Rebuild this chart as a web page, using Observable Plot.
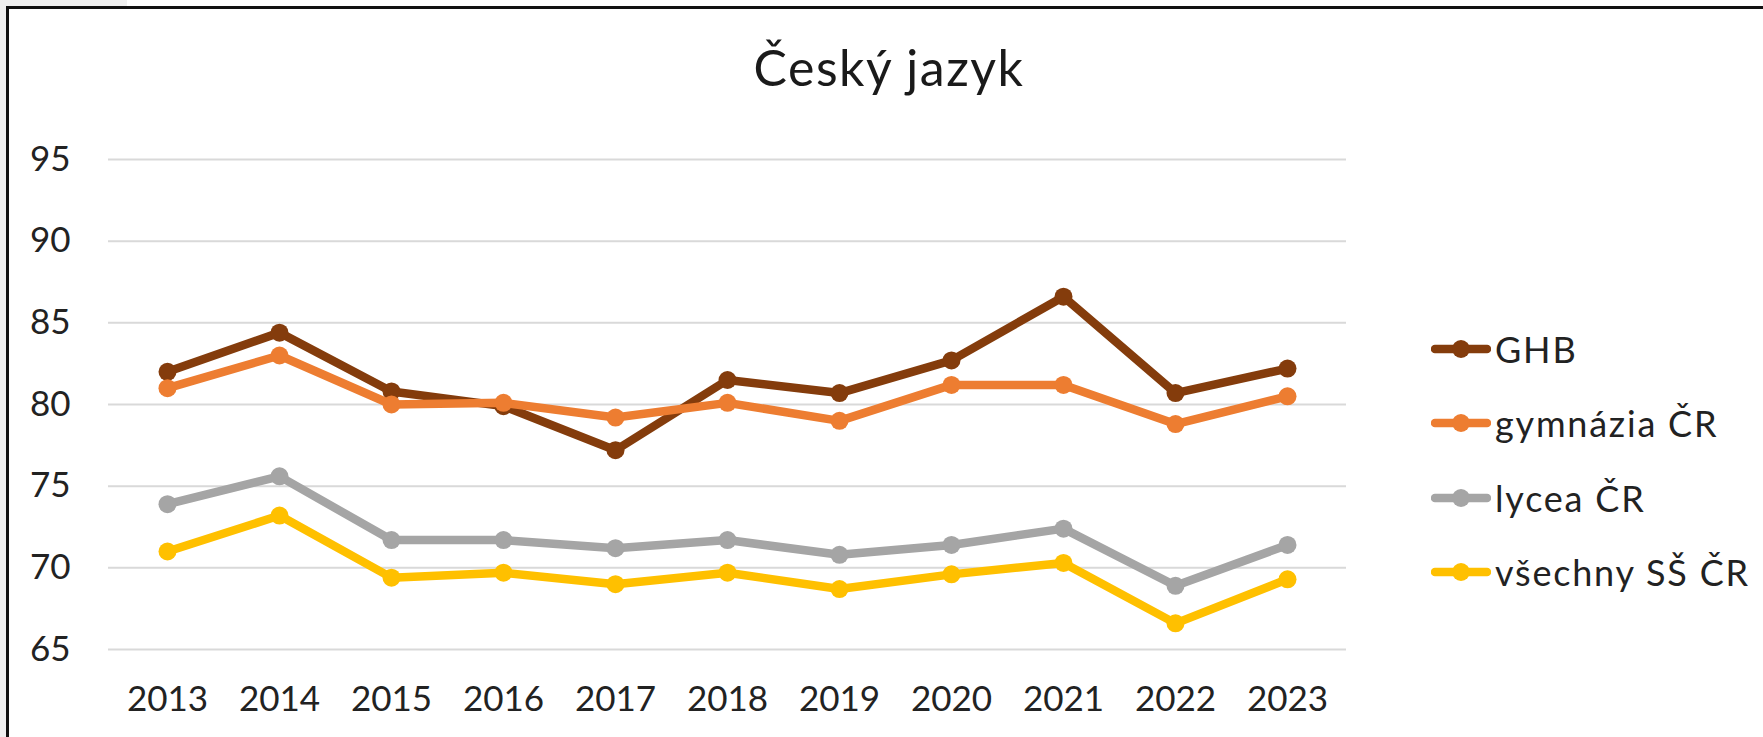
<!DOCTYPE html>
<html>
<head>
<meta charset="utf-8">
<script src="https://cdn.jsdelivr.net/npm/d3@7"></script>
<script src="https://cdn.jsdelivr.net/npm/@observablehq/plot@0.6"></script>
<style>
  html, body { margin: 0; padding: 0; background: #fff; overflow: hidden; }
  #wrap { position: relative; width: 1763px; height: 737px; overflow: hidden; background: #fff; font-family: Lato, "Open Sans", sans-serif; color: #222; }
  #graytop { position: absolute; left: 0; top: 0; width: 127px; height: 6px; background: #f0f0f0; }
  #grayleft { position: absolute; left: 0; top: 0; width: 6px; height: 737px; background: #f0f0f0; }
  #frameTop { position: absolute; left: 6px; top: 6px; width: 1757px; height: 2.5px; background: #111; }
  #frameLeft { position: absolute; left: 6px; top: 6px; width: 2.5px; height: 731px; background: #111; }
  #title { position: absolute; left: 589px; width: 600px; top: 42px; text-align: center; font-size: 50px; line-height: 1; letter-spacing: 1.5px; color: #1a1a1a; }
  #chart { position: absolute; left: 0; top: 110px; }
  #legend { position: absolute; left: 1431px; top: 0; }
  .lg { position: absolute; left: 0; height: 40px; display: flex; align-items: center; white-space: nowrap; font-size: 36px; color: #222; }
  .lg svg { display: block; }
  .lg span { margin-left: 4px; letter-spacing: 1.8px; }
</style>
</head>
<body>
<div id="wrap">
  <div id="graytop"></div>
  <div id="grayleft"></div>
  <div id="frameTop"></div>
  <div id="frameLeft"></div>
  <div id="title"></div>
  <div id="chart"></div>
  <div id="legend"></div>
</div>
<script>
const titleText = "Český jazyk";
const years = ["2013","2014","2015","2016","2017","2018","2019","2020","2021","2022","2023"];
const seriesNames = ["GHB", "gymnázia ČR", "lycea ČR", "všechny SŠ ČR"];
const seriesColors = ["#843C0C", "#ED7D31", "#A5A5A5", "#FFC000"];
const ghb      = [82.0, 84.4, 80.8, 79.9, 77.2, 81.5, 80.7, 82.7, 86.6, 80.7, 82.2];
const gymnazia = [81.0, 83.0, 80.0, 80.1, 79.2, 80.1, 79.0, 81.2, 81.2, 78.8, 80.5];
const lycea    = [73.9, 75.6, 71.7, 71.7, 71.2, 71.7, 70.8, 71.4, 72.4, 68.9, 71.4];
const vsechny  = [71.0, 73.2, 69.4, 69.7, 69.0, 69.7, 68.7, 69.6, 70.3, 66.6, 69.3];
const yTicks = [65, 70, 75, 80, 85, 90, 95];

const seriesValues = [ghb, gymnazia, lycea, vsechny];
const rows = seriesNames.flatMap((s, i) => years.map((yr, j) => ({series: s, year: yr, value: seriesValues[i][j]})));

document.getElementById("title").textContent = titleText;

const seriesMarks = seriesNames.flatMap((s, i) => {
  const d = rows.filter(r => r.series === s);
  return [
    Plot.line(d, {x: "year", y: "value", stroke: seriesColors[i], strokeWidth: 8.5, strokeLinejoin: "round", strokeLinecap: "round"}),
    Plot.dot(d, {x: "year", y: "value", r: 9, fill: seriesColors[i], stroke: "none"})
  ];
});

const chart = Plot.plot({
  width: 1400,
  height: 627,
  marginLeft: 108,
  marginRight: 54,
  marginTop: 49,
  marginBottom: 88,
  style: {fontFamily: "Lato, 'Open Sans', sans-serif", fontSize: "35px", color: "#222", background: "transparent", overflow: "visible"},
  x: {type: "point", domain: years, padding: 0.5, label: null},
  y: {domain: [65, 95], label: null},
  marks: [
    Plot.ruleY(yTicks, {stroke: "#d9d9d9", strokeWidth: 2}),
    Plot.axisX({tickSize: 0, tickPadding: 37, fontSize: 35, label: null}),
    Plot.axisY({ticks: yTicks, tickSize: 0, tickPadding: 38, fontSize: 35, label: null}),
    ...seriesMarks
  ]
});
document.getElementById("chart").appendChild(chart);

// legend
const legend = document.getElementById("legend");
const legendCenters0 = 348.6, legendStep = 74.5;
seriesNames.forEach((s, i) => {
  const row = document.createElement("div");
  row.className = "lg";
  row.style.top = (legendCenters0 + i * legendStep - 20) + "px";
  const ns = "http://www.w3.org/2000/svg";
  const svg = document.createElementNS(ns, "svg");
  svg.setAttribute("width", 60); svg.setAttribute("height", 40);
  const ln = document.createElementNS(ns, "line");
  ln.setAttribute("x1", 4); ln.setAttribute("x2", 56); ln.setAttribute("y1", 20); ln.setAttribute("y2", 20);
  ln.setAttribute("stroke", seriesColors[i]); ln.setAttribute("stroke-width", 8.5); ln.setAttribute("stroke-linecap", "round");
  const c = document.createElementNS(ns, "circle");
  c.setAttribute("cx", 30); c.setAttribute("cy", 20); c.setAttribute("r", 9); c.setAttribute("fill", seriesColors[i]);
  svg.appendChild(ln); svg.appendChild(c);
  const t = document.createElement("span");
  t.textContent = s;
  row.appendChild(svg); row.appendChild(t);
  legend.appendChild(row);
});
</script>
</body>
</html>
